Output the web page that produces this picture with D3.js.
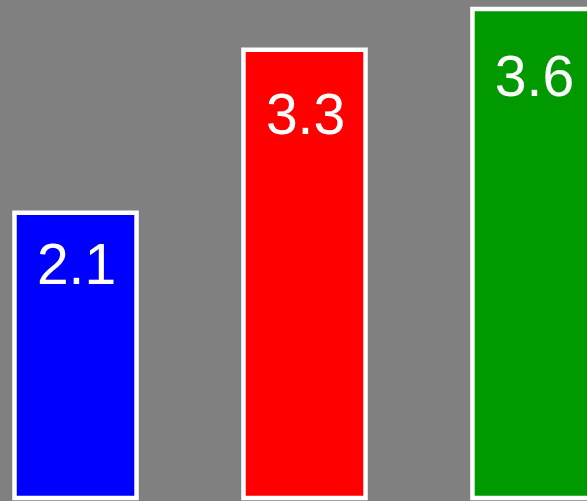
<!DOCTYPE html>
<html>
<head>
<meta charset="utf-8">
<script src="https://cdn.jsdelivr.net/npm/d3@7"></script>
<style>
  html, body { margin: 0; padding: 0; background: #808080; }
  svg { display: block; }
</style>
</head>
<body>
<svg id="chart" width="587" height="501"></svg>
<script>
const categories = ["A", "B", "C"];
const values = [2.1, 3.3, 3.6];
const colors = ["#0000ff", "#ff0000", "#009900"];

const svg = d3.select("#chart");
svg.append("rect").attr("width", 587).attr("height", 501).attr("fill", "#808080");

const x = d3.scaleBand().domain(categories).range([14.5, 594.5]).paddingInner(0.467).paddingOuter(0);
const y = d3.scaleLinear().domain([0, d3.max(values)]).range([498, 9]);
const yLabel = d3.scaleLinear().domain([0, d3.max(values)]).range([546, 96]);

const data = categories.map((c, i) => ({ c, v: values[i], color: colors[i] }));

svg.selectAll("rect.bar").data(data).join("rect")
  .attr("class", "bar")
  .attr("x", d => x(d.c))
  .attr("y", d => y(d.v))
  .attr("width", x.bandwidth())
  .attr("height", d => y(0) - y(d.v))
  .attr("fill", d => d.color)
  .attr("stroke", "#ffffff")
  .attr("stroke-width", 4.5);

svg.selectAll("text.lbl").data(data).join("text")
  .attr("class", "lbl")
  .attr("x", d => x(d.c) + x.bandwidth() / 2 + 1)
  .attr("y", d => yLabel(d.v))
  .attr("text-anchor", "middle")
  .attr("fill", "#ffffff")
  .style("font-family", "Liberation Sans, Arial, sans-serif")
  .style("font-size", "57px")
  .text(d => d3.format(".1f")(d.v));
</script>
</body>
</html>
